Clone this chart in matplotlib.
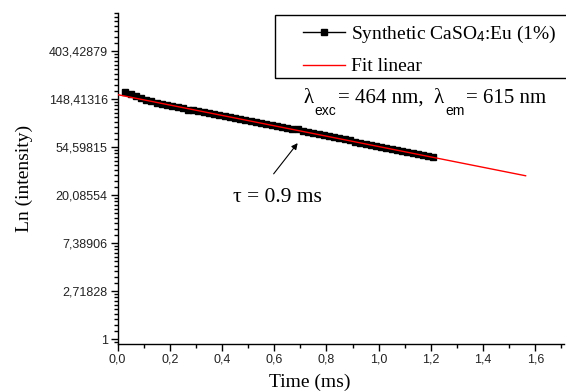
import numpy as np
import matplotlib
matplotlib.use("Agg")
import matplotlib.pyplot as plt
from matplotlib.patches import Rectangle
from matplotlib.ticker import FixedLocator, MultipleLocator

plt.rcParams['mathtext.fontset'] = 'custom'
plt.rcParams['mathtext.rm'] = 'Liberation Serif'
plt.rcParams['mathtext.sf'] = 'Liberation Sans'
plt.rcParams['mathtext.it'] = 'Liberation Serif:italic'

# decay data (ln of intensity)
time_ms = [0.03, 0.05, 0.07, 0.09, 0.11, 0.13, 0.15, 0.17, 0.19, 0.21,
           0.23, 0.25, 0.27, 0.29, 0.31, 0.33, 0.35, 0.37, 0.39, 0.41,
           0.43, 0.45, 0.47, 0.49, 0.51, 0.53, 0.55, 0.57, 0.59, 0.61,
           0.63, 0.65, 0.67, 0.69, 0.71, 0.73, 0.75, 0.77, 0.79, 0.81,
           0.83, 0.85, 0.87, 0.89, 0.91, 0.93, 0.95, 0.97, 0.99, 1.01,
           1.03, 1.05, 1.07, 1.09, 1.11, 1.13, 1.15, 1.17, 1.19, 1.21]
ln_int = [5.15, 5.11, 5.06, 5.01, 4.98, 4.95, 4.92, 4.89, 4.87, 4.85,
          4.83, 4.81, 4.78, 4.76, 4.75, 4.73, 4.71, 4.69, 4.67, 4.65,
          4.63, 4.61, 4.59, 4.57, 4.54, 4.52, 4.50, 4.48, 4.46, 4.44,
          4.42, 4.40, 4.38, 4.37, 4.34, 4.32, 4.29, 4.27, 4.25, 4.22,
          4.20, 4.18, 4.16, 4.14, 4.11, 4.09, 4.06, 4.04, 4.02, 4.00,
          3.98, 3.96, 3.94, 3.92, 3.90, 3.88, 3.86, 3.84, 3.82, 3.79]

# linear fit (end points)
fit_time = [0.0, 1.563]
fit_ln = [5.09, 3.40]

y_ticks_ln = [0, 1, 2, 3, 4, 5, 6]
y_tick_labels = ["1", "2,71828", "7,38906", "20,08554", "54,59815", "148,41316", "403,42879"]
x_ticks = [0.0, 0.2, 0.4, 0.6, 0.8, 1.0, 1.2, 1.4, 1.6]
x_tick_labels = ["0,0", "0,2", "0,4", "0,6", "0,8", "1,0", "1,2", "1,4", "1,6"]

fig = plt.figure(figsize=(5.66, 3.92), dpi=100)
ax = fig.add_axes([117.5 / 566, 1 - 344 / 392, (564 - 117.5) / 566, (344 - 13) / 392])

ax.plot(time_ms, np.exp(ln_int), color='black', lw=1, marker='s', ms=5,
        label=r'Synthetic CaSO$_{\mathsf{4}}$:Eu (1%)', zorder=2)
ax.plot(fit_time, np.exp(fit_ln), color='red', lw=1, label='Fit linear', zorder=3)

ax.set_yscale('log', base=np.e)
ax.set_ylim(np.exp(-0.104), np.exp(6.79))
ax.set_xlim(0, 1.71)

ax.yaxis.set_major_locator(FixedLocator(np.exp(y_ticks_ln)))
ax.set_yticklabels(y_tick_labels)
minors = []
for n in range(-1, 7):
    for k in range(1, 10):
        minors.append(np.exp(n) * (1 + k * (np.e - 1) / 10))
ax.yaxis.set_minor_locator(FixedLocator(minors))
ax.yaxis.set_minor_formatter(plt.NullFormatter())

ax.set_xticks(x_ticks)
ax.set_xticklabels(x_tick_labels)
ax.xaxis.set_minor_locator(MultipleLocator(0.1))

for s in ['top', 'right']:
    ax.spines[s].set_visible(False)
for s in ['left', 'bottom']:
    ax.spines[s].set_linewidth(1)

ax.tick_params(which='major', direction='out', length=5, width=1, pad=2,
               labelsize=9, labelcolor='#222222')
ax.tick_params(which='minor', direction='out', length=3, width=1)
for lab in ax.get_xticklabels() + ax.get_yticklabels():
    lab.set_family('Liberation Sans')

ax.set_xlabel('Time (ms)', family='Liberation Serif', fontsize=14)
ax.set_ylabel('Ln (intensity)', family='Liberation Serif', fontsize=14)
ax.xaxis.set_label_coords(0.43, -0.09)
ax.yaxis.set_label_coords(-0.19, 0.5)

# legend box
fig.patches.append(Rectangle((275 / 566, 1 - 78 / 392), 0.6, 63 / 392,
                             transform=fig.transFigure, fill=False,
                             edgecolor='black', lw=1))
fig.legend(loc='upper left', bbox_to_anchor=(303 / 566, 1 - 24 / 392),
           frameon=False, borderpad=0, borderaxespad=0, handlelength=2.15,
           handletextpad=0.3, labelspacing=0.65,
           prop={'family': 'Liberation Serif', 'size': 14})

# excitation / emission wavelengths, built piece by piece for the low subscripts
serif = dict(family='Liberation Serif', fontsize=15, va='baseline', ha='left')
sans = dict(family='Liberation Sans', fontsize=10, va='baseline', ha='left')
y0 = 0.728
t = ax.text(0.4155, y0, 'λ', transform=ax.transAxes, **serif)
pieces = [('exc', sans), ('= 464 nm,  λ', serif), ('em', sans), ('= 615 nm', serif)]
for txt, style in pieces:
    dy = -8.5 if style is sans else 0
    t = ax.annotate(txt, xy=(1, y0), xycoords=(t, ax.transAxes),
                    xytext=(1, dy), textcoords='offset points', **style)

arrow_head = (0.69, np.exp(4.08))
arrow_tail = (0.598, np.exp(3.44))
ax.annotate('', xy=arrow_head, xytext=arrow_tail,
            arrowprops=dict(arrowstyle='-|>', color='black', lw=0.8,
                            mutation_scale=9, shrinkA=0, shrinkB=0))
ax.text(0.613, np.exp(2.94), 'τ = 0.9 ms', family='Liberation Serif',
        fontsize=15.5, ha='center', va='center')

fig.savefig('out.png', dpi=100)
